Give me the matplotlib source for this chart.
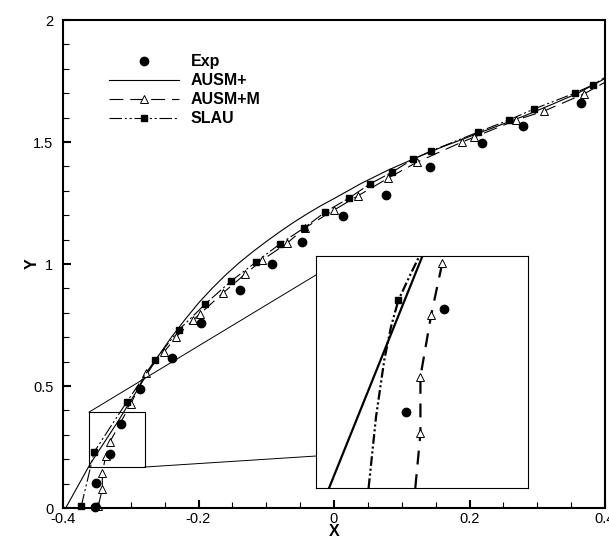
import numpy as np
import matplotlib
matplotlib.use("Agg")
import matplotlib.pyplot as plt
from matplotlib.patches import Rectangle

plt.rcParams['font.family'] = ['Liberation Sans', 'DejaVu Sans']
plt.rcParams['lines.scale_dashes'] = False

# experiment
exp_x = [-0.353, -0.351, -0.331, -0.314, -0.286, -0.239, -0.196, -0.139, -0.092,
         -0.047, 0.013, 0.077, 0.142, 0.218, 0.279, 0.365]
exp_y = [0.004, 0.102, 0.221, 0.344, 0.488, 0.615, 0.758, 0.893, 1.000,
         1.090, 1.197, 1.283, 1.398, 1.496, 1.566, 1.660]

# AUSM+ (solid line only)
ausm_x = [-0.396, -0.378, -0.360, -0.340, -0.320, -0.300, -0.280, -0.260, -0.240,
          -0.220, -0.200, -0.180, -0.160, -0.140, -0.120, -0.100, -0.080, -0.060,
          -0.040, -0.020, 0.000, 0.040, 0.080, 0.120, 0.160, 0.200, 0.240, 0.280,
          0.320, 0.360, 0.400]
ausm_y = [0.000, 0.090, 0.180, 0.265, 0.350, 0.440, 0.530, 0.620, 0.700,
          0.772, 0.840, 0.900, 0.955, 1.005, 1.050, 1.092, 1.132, 1.170,
          1.205, 1.238, 1.268, 1.330, 1.385, 1.434, 1.480, 1.522, 1.564, 1.606,
          1.652, 1.700, 1.760]

# AUSM+M (dashed, triangles) - last point only extends the line
ausmm_x = [-0.348, -0.342, -0.342, -0.337, -0.331, -0.300, -0.278, -0.251, -0.233,
           -0.208, -0.198, -0.164, -0.131, -0.106, -0.069, -0.043, 0.000, 0.035,
           0.080, 0.123, 0.189, 0.207, 0.269, 0.310, 0.369, 0.400]
ausmm_y = [0.008, 0.078, 0.143, 0.213, 0.270, 0.426, 0.553, 0.639, 0.701,
           0.770, 0.795, 0.881, 0.959, 1.016, 1.086, 1.148, 1.221, 1.279,
           1.352, 1.418, 1.500, 1.520, 1.590, 1.627, 1.697, 1.745]

# SLAU (dash-dot-dot, squares) - last point only extends the line
slau_x = [-0.373, -0.354, -0.306, -0.264, -0.229, -0.190, -0.152, -0.115, -0.080,
          -0.044, -0.013, 0.022, 0.053, 0.086, 0.117, 0.143, 0.213, 0.258,
          0.295, 0.356, 0.382, 0.400]
slau_y = [0.008, 0.230, 0.434, 0.607, 0.730, 0.836, 0.930, 1.008, 1.082,
          1.148, 1.213, 1.270, 1.328, 1.377, 1.430, 1.463, 1.541, 1.590,
          1.635, 1.701, 1.734, 1.765]

# zoomed frame
in_exp_x = [-0.3264, -0.3119]
in_exp_y = [0.242, 0.342]
in_ausm_x = [-0.3565, -0.3201]
in_ausm_y = [0.168, 0.393]
in_ausmm_x = [-0.3229, -0.3209, -0.3209, -0.3167, -0.3124, -0.3122]
in_ausmm_y = [0.168, 0.221, 0.276, 0.336, 0.386, 0.393]
in_slau_x = [-0.3411, -0.3382, -0.3350, -0.3324, -0.3295, -0.3252, -0.3213]
in_slau_y = [0.168, 0.237, 0.292, 0.324, 0.350, 0.373, 0.393]

zoom_xlim = (-0.3616, -0.2790)
zoom_ylim = (0.168, 0.393)
inset_box = (-0.0266, 0.082, 0.3129, 0.951)   # x0, y0, w, h in data units

dash_m = (0, (10, 5))
dash_s = (0, (9, 2, 1.5, 2, 1.5, 2))

fig = plt.figure(figsize=(6.09, 5.42), dpi=100)
ax = fig.add_axes([63/609, 34/542, 542/609, 488/542])

ax.plot(ausm_x, ausm_y, color='black', lw=0.8, label='AUSM+')
ax.plot(ausmm_x, ausmm_y, color='black', lw=0.8, ls=dash_m, marker='^', ms=6,
        mfc='white', mec='black', mew=0.7, markevery=list(range(len(ausmm_x) - 1)),
        label='AUSM+M', clip_on=False)
ax.plot(slau_x, slau_y, color='black', lw=0.8, ls=dash_s, marker='s', ms=4.5,
        mfc='black', mec='black', markevery=list(range(len(slau_x) - 1)),
        label='SLAU', clip_on=False)
ax.plot(exp_x, exp_y, ls='none', marker='o', ms=6, color='black', label='Exp',
        clip_on=False, zorder=5)

ax.set_xlim(-0.4, 0.4)
ax.set_ylim(0, 2)
ax.set_xticks([-0.4, -0.2, 0, 0.2, 0.4])
ax.set_xticklabels(['-0.4', '-0.2', '0', '0.2', '0.4'])
ax.set_yticks([0, 0.5, 1, 1.5, 2])
ax.set_yticklabels(['0', '0.5', '1', '1.5', '2'])
ax.set_xticks(np.arange(-0.4, 0.41, 0.05), minor=True)
ax.set_yticks(np.arange(0, 2.01, 0.1), minor=True)
ax.tick_params(which='major', direction='in', length=6, width=1.5, labelsize=10.5,
               top=False, right=False)
ax.tick_params(which='minor', direction='in', length=4, width=0.8, top=False, right=False)
ax.tick_params(axis='x', pad=3)
ax.tick_params(axis='y', pad=7)
for s in ax.spines.values():
    s.set_linewidth(1.5)
ax.set_xlabel('X', fontsize=11.5, fontweight='bold', va='center')
ax.set_ylabel('Y', fontsize=11.5, fontweight='bold', va='center')
ax.xaxis.set_label_coords(0.5, -0.049)
ax.yaxis.set_label_coords(-0.057, 0.5)

h, l = ax.get_legend_handles_labels()
order = [3, 0, 1, 2]
ax.legend([h[i] for i in order], [l[i] for i in order], loc='upper left',
          bbox_to_anchor=(0.085, 0.930), frameon=False, numpoints=1,
          prop={'weight': 'bold', 'size': 11.5}, handlelength=4.4,
          handletextpad=0.7, labelspacing=0.25, borderpad=0, borderaxespad=0)

# small box + connectors
ax.add_patch(Rectangle((zoom_xlim[0], zoom_ylim[0]), zoom_xlim[1] - zoom_xlim[0],
                       zoom_ylim[1] - zoom_ylim[0], fill=False, lw=0.8, ec='black'))
ax.plot([zoom_xlim[0], inset_box[0]], [zoom_ylim[1], 0.955], color='black', lw=0.7)
ax.plot([zoom_xlim[1], inset_box[0]], [zoom_ylim[0], 0.213], color='black', lw=0.7)

axin = ax.inset_axes(inset_box, transform=ax.transData)
axin.plot(in_ausm_x, in_ausm_y, color='black', lw=1.6)
axin.plot(in_slau_x, in_slau_y, color='black', lw=1.6, ls=(0, (7, 2, 1.5, 2, 1.5, 2)))
axin.plot(in_ausmm_x, in_ausmm_y, color='black', lw=1.6, ls=(0, (10, 7)))
axin.plot(in_ausmm_x[1:-1], in_ausmm_y[1:-1], ls='none', marker='^', ms=6,
          mfc='white', mec='black', mew=0.7)
axin.plot(in_slau_x[4:5], in_slau_y[4:5], ls='none', marker='s', ms=4.5, color='black')
axin.plot(in_exp_x, in_exp_y, ls='none', marker='o', ms=6, color='black')
axin.set_xlim(*zoom_xlim)
axin.set_ylim(*zoom_ylim)
axin.set_xticks([])
axin.set_yticks([])
for s in axin.spines.values():
    s.set_linewidth(0.8)

fig.savefig('out.png', dpi=100)
